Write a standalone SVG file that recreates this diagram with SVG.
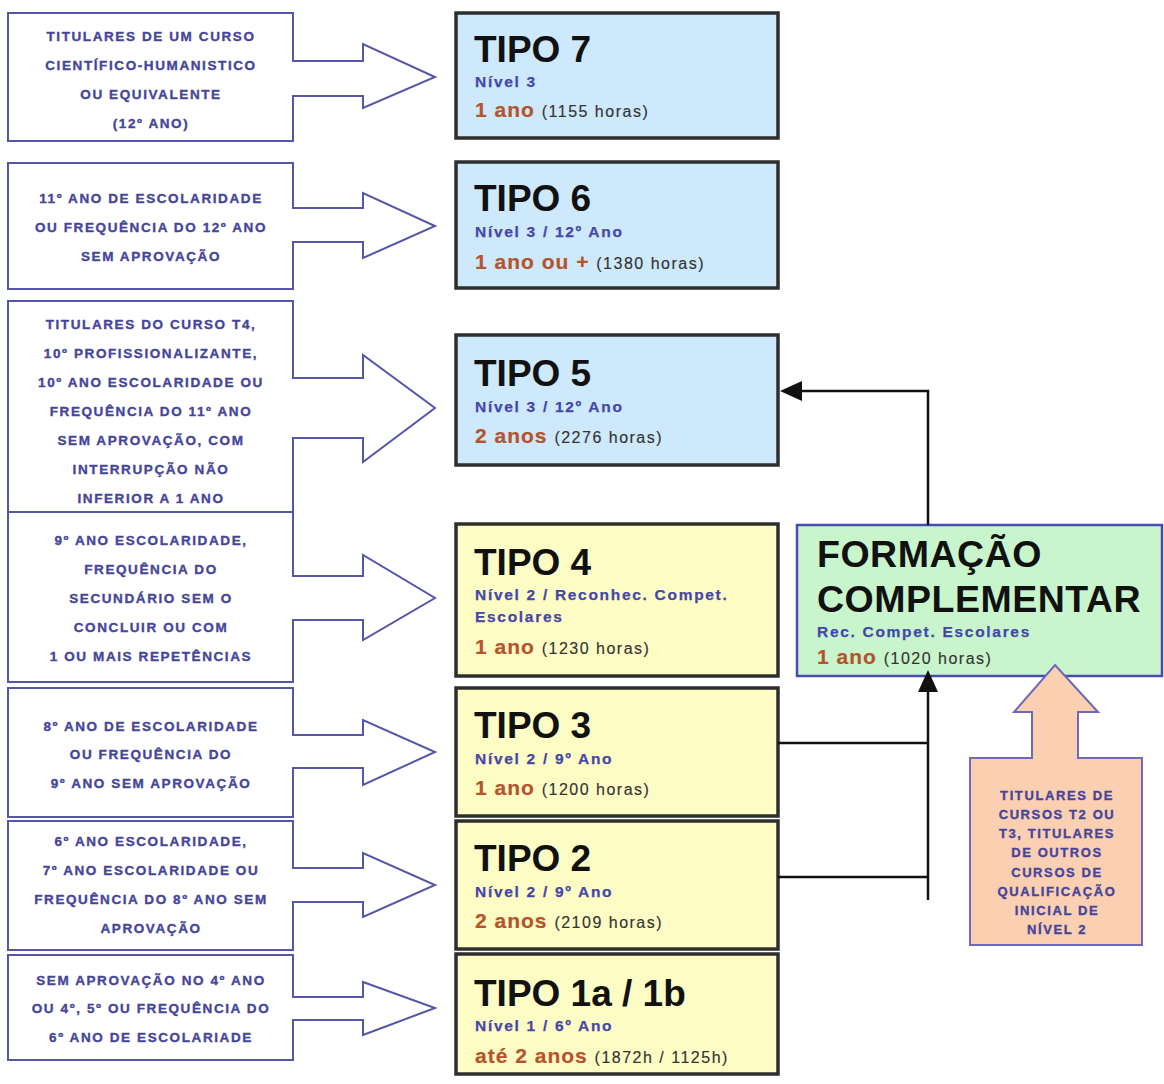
<svg xmlns="http://www.w3.org/2000/svg" width="1164" height="1084" viewBox="0 0 1164 1084">
  <style>
    .src { fill: #ffffff; stroke: #5656a8; stroke-width: 2; stroke-linejoin: miter; }
    .srct { font-family: "Liberation Sans", Arial, sans-serif; font-weight: bold; font-size: 13.5px; letter-spacing: 1.6px; fill: #45459a; stroke: #45459a; stroke-width: 0.35; text-anchor: middle; }
    .tipo { stroke: #2e2e2e; stroke-width: 3.5; }
    .blue { fill: #cde9fb; }
    .yel { fill: #fdfcc4; }
    .ttl { font-family: "Liberation Sans", Arial, sans-serif; font-weight: bold; font-size: 37px; fill: #111111; }
    .big { font-size: 37.5px; letter-spacing: 0.5px; }
    .niv { font-family: "Liberation Sans", Arial, sans-serif; font-weight: bold; font-size: 15.5px; letter-spacing: 1.7px; fill: #4646aa; stroke: #4646aa; stroke-width: 0.25; }
    .dur { font-family: "Liberation Sans", Arial, sans-serif; font-weight: bold; font-size: 21px; letter-spacing: 1px; fill: #b4542c; stroke: #b4542c; stroke-width: 0.2; }
    .hrs { font-weight: normal; font-size: 16px; letter-spacing: 1.5px; fill: #333333; stroke: #333333; stroke-width: 0.15; }
    .fc { fill: #c9f5cc; stroke: #4a4ab0; stroke-width: 2.5; }
    .peach { fill: #fbcfb2; stroke: #6a6ab8; stroke-width: 2; stroke-linejoin: miter; }
    .pt { font-family: "Liberation Sans", Arial, sans-serif; font-weight: bold; font-size: 13px; letter-spacing: 1.6px; fill: #45459a; stroke: #45459a; stroke-width: 0.35; text-anchor: middle; }
    .con { fill: none; stroke: #111111; stroke-width: 2.5; }
  </style>
  <defs>
    <marker id="head" viewBox="0 0 22 20" refX="12" refY="10" markerWidth="22" markerHeight="20" markerUnits="userSpaceOnUse" orient="auto">
      <path d="M0,0 L22,10 L0,20 Z" fill="#111111"/>
    </marker>
  </defs>

  <!-- entry conditions: box + block arrow pointing at each course type -->
  <g id="entry-7">
    <path class="src" d="M8,13 H293 V61 H363 V44 L435,77 L363,108 V96 H293 V141 H8 Z"/>
    <text class="srct" x="151" y="41">TITULARES DE UM CURSO</text>
    <text class="srct" x="151" y="70">CIENTÍFICO-HUMANISTICO</text>
    <text class="srct" x="151" y="99">OU EQUIVALENTE</text>
    <text class="srct" x="151" y="128">(12º ANO)</text>
  </g>
  <g id="entry-6">
    <path class="src" d="M8,163 H293 V208 H363 V193 L435,226 L363,258 V242 H293 V289 H8 Z"/>
    <text class="srct" x="151" y="203">11º ANO DE ESCOLARIDADE</text>
    <text class="srct" x="151" y="232">OU FREQUÊNCIA DO 12º ANO</text>
    <text class="srct" x="151" y="261">SEM APROVAÇÃO</text>
  </g>
  <g id="entry-5">
    <path class="src" d="M8,301 H293 V378 H363 V355 L435,408 L363,462 V438 H293 V512 H8 Z"/>
    <text class="srct" x="151" y="329">TITULARES DO CURSO T4,</text>
    <text class="srct" x="151" y="358">10º PROFISSIONALIZANTE,</text>
    <text class="srct" x="151" y="387">10º ANO ESCOLARIDADE OU</text>
    <text class="srct" x="151" y="416">FREQUÊNCIA DO 11º ANO</text>
    <text class="srct" x="151" y="445">SEM APROVAÇÃO, COM</text>
    <text class="srct" x="151" y="474">INTERRUPÇÃO NÃO</text>
    <text class="srct" x="151" y="503">INFERIOR A 1 ANO</text>
  </g>
  <g id="entry-4">
    <path class="src" d="M8,512 H293 V576 H363 V555 L435,598 L363,640 V620 H293 V682 H8 Z"/>
    <text class="srct" x="151" y="545">9º ANO ESCOLARIDADE,</text>
    <text class="srct" x="151" y="574">FREQUÊNCIA DO</text>
    <text class="srct" x="151" y="603">SECUNDÁRIO SEM O</text>
    <text class="srct" x="151" y="632">CONCLUIR OU COM</text>
    <text class="srct" x="151" y="661">1 OU MAIS REPETÊNCIAS</text>
  </g>
  <g id="entry-3">
    <path class="src" d="M8,688 H293 V735 H363 V720 L435,752 L363,785 V768 H293 V817 H8 Z"/>
    <text class="srct" x="151" y="731">8º ANO DE ESCOLARIDADE</text>
    <text class="srct" x="151" y="759">OU FREQUÊNCIA DO</text>
    <text class="srct" x="151" y="788">9º ANO SEM APROVAÇÃO</text>
  </g>
  <g id="entry-2">
    <path class="src" d="M8,821 H293 V868 H363 V853 L435,885 L363,917 V902 H293 V950 H8 Z"/>
    <text class="srct" x="151" y="846">6º ANO ESCOLARIDADE,</text>
    <text class="srct" x="151" y="875">7º ANO ESCOLARIDADE OU</text>
    <text class="srct" x="151" y="904">FREQUÊNCIA DO 8º ANO SEM</text>
    <text class="srct" x="151" y="933">APROVAÇÃO</text>
  </g>
  <g id="entry-1">
    <path class="src" d="M8,955 H293 V997 H363 V982 L435,1008 L363,1035 V1020 H293 V1060 H8 Z"/>
    <text class="srct" x="151" y="985">SEM APROVAÇÃO NO 4º ANO</text>
    <text class="srct" x="151" y="1013">OU 4º, 5º OU FREQUÊNCIA DO</text>
    <text class="srct" x="151" y="1042">6º ANO DE ESCOLARIADE</text>
  </g>

  <!-- course types -->
  <g id="tipo-7">
    <rect class="tipo blue" x="456" y="13" width="322" height="125"/>
    <text class="ttl" x="474" y="62">TIPO 7</text>
    <text class="niv" x="475" y="87">Nível 3</text>
    <text class="dur" x="475" y="117">1 ano <tspan class="hrs">(1155 horas)</tspan></text>
  </g>
  <g id="tipo-6">
    <rect class="tipo blue" x="456" y="162" width="322" height="126"/>
    <text class="ttl" x="474" y="211">TIPO 6</text>
    <text class="niv" x="475" y="237">Nível 3 / 12º Ano</text>
    <text class="dur" x="475" y="269">1 ano ou + <tspan class="hrs">(1380 horas)</tspan></text>
  </g>
  <g id="tipo-5">
    <rect class="tipo blue" x="456" y="335" width="322" height="130"/>
    <text class="ttl" x="474" y="386">TIPO 5</text>
    <text class="niv" x="475" y="412">Nível 3 / 12º Ano</text>
    <text class="dur" x="475" y="443">2 anos <tspan class="hrs">(2276 horas)</tspan></text>
  </g>
  <g id="tipo-4">
    <rect class="tipo yel" x="456" y="524" width="322" height="152"/>
    <text class="ttl" x="474" y="575">TIPO 4</text>
    <text class="niv" x="475" y="600">Nível 2 / Reconhec. Compet.</text>
    <text class="niv" x="475" y="622">Escolares</text>
    <text class="dur" x="475" y="654">1 ano <tspan class="hrs">(1230 horas)</tspan></text>
  </g>
  <g id="tipo-3">
    <rect class="tipo yel" x="456" y="688" width="322" height="128"/>
    <text class="ttl" x="474" y="738">TIPO 3</text>
    <text class="niv" x="475" y="764">Nível 2 / 9º Ano</text>
    <text class="dur" x="475" y="795">1 ano <tspan class="hrs">(1200 horas)</tspan></text>
  </g>
  <g id="tipo-2">
    <rect class="tipo yel" x="456" y="821" width="322" height="128"/>
    <text class="ttl" x="474" y="871">TIPO 2</text>
    <text class="niv" x="475" y="897">Nível 2 / 9º Ano</text>
    <text class="dur" x="475" y="928">2 anos <tspan class="hrs">(2109 horas)</tspan></text>
  </g>
  <g id="tipo-1">
    <rect class="tipo yel" x="456" y="954" width="322" height="120"/>
    <text class="ttl" x="474" y="1006">TIPO 1a / 1b</text>
    <text class="niv" x="475" y="1031">Nível 1 / 6º Ano</text>
    <text class="dur" x="475" y="1063">até 2 anos <tspan class="hrs">(1872h / 1125h)</tspan></text>
  </g>

  <!-- complementary training -->
  <g id="formacao-complementar">
    <rect class="fc" x="797" y="525" width="365" height="151"/>
    <text class="ttl big" x="817" y="567">FORMAÇÃO</text>
    <text class="ttl big" x="817" y="612">COMPLEMENTAR</text>
    <text class="niv" x="817" y="637">Rec. Compet. Escolares</text>
    <text class="dur" x="817" y="664">1 ano <tspan class="hrs">(1020 horas)</tspan></text>
  </g>

  <!-- holders of other level-2 courses -->
  <g id="titulares-nivel-2">
    <path class="peach" d="M1055,665 L1098,712 H1078 V758 H1142 V945 H970 V758 H1032 V712 H1014 Z"/>
    <text class="pt" x="1057" y="800">TITULARES DE</text>
    <text class="pt" x="1057" y="819">CURSOS T2 OU</text>
    <text class="pt" x="1057" y="838">T3, TITULARES</text>
    <text class="pt" x="1057" y="857">DE OUTROS</text>
    <text class="pt" x="1057" y="877">CURSOS DE</text>
    <text class="pt" x="1057" y="896">QUALIFICAÇÃO</text>
    <text class="pt" x="1057" y="915">INICIAL DE</text>
    <text class="pt" x="1057" y="934">NÍVEL 2</text>
  </g>

  <!-- connectors -->
  <g id="connectors">
    <path class="con" d="M928,525 V391 H790" marker-end="url(#head)"/>
    <path class="con" d="M778,743 H928"/>
    <path class="con" d="M778,877 H928"/>
    <path class="con" d="M928,900 V680" marker-end="url(#head)"/>
  </g>
</svg>
